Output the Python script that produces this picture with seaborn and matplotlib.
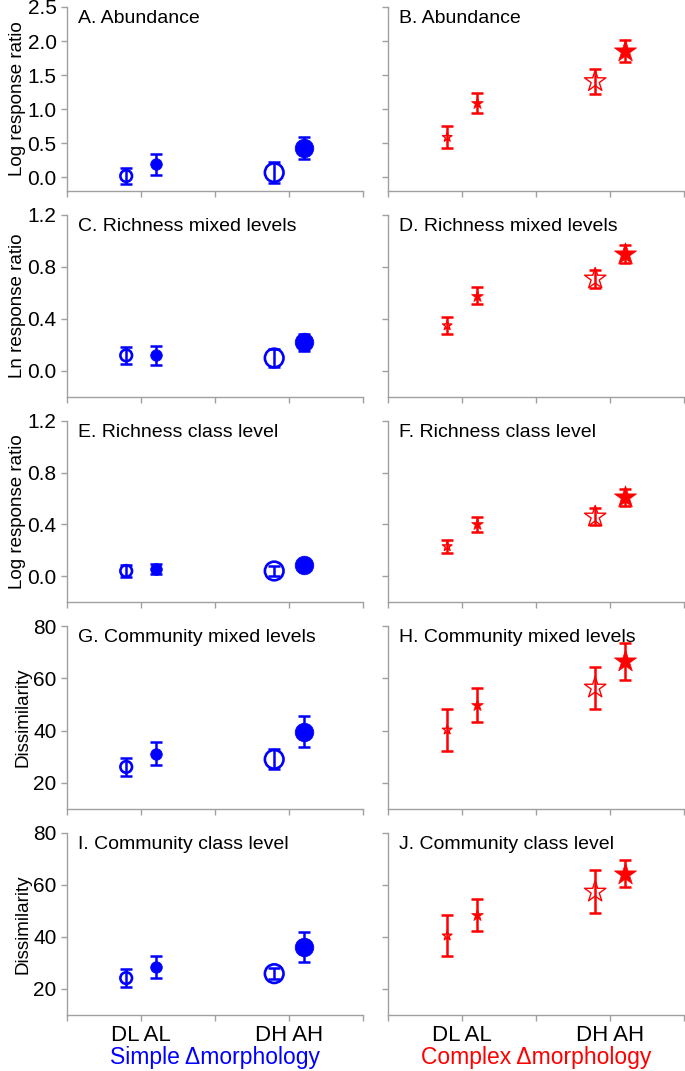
import matplotlib
matplotlib.use("Agg")
import matplotlib.pyplot as plt
import seaborn as sns
import pandas as pd

# treatments in plotting order (D = open marker, A = filled marker)
treatments = ["DL", "AL", "DH", "AH"]
group_labels = ["DL AL", "DH AH"]

titles_simple = ["A. Abundance", "C. Richness mixed levels", "E. Richness class level",
                 "G. Community mixed levels", "I. Community class level"]
titles_complex = ["B. Abundance", "D. Richness mixed levels", "F. Richness class level",
                  "H. Community mixed levels", "J. Community class level"]
ylabels = ["Log response ratio", "Ln response ratio", "Log response ratio",
           "Dissimilarity", "Dissimilarity"]

abund_simple = [0.02, 0.19, 0.07, 0.43]
abund_simple_se = [0.12, 0.155, 0.15, 0.16]
abund_complex = [0.59, 1.09, 1.41, 1.86]
abund_complex_se = [0.16, 0.15, 0.18, 0.16]

richmix_simple = [0.12, 0.12, 0.10, 0.22]
richmix_simple_se = [0.065, 0.07, 0.07, 0.065]
richmix_complex = [0.35, 0.58, 0.71, 0.90]
richmix_complex_se = [0.065, 0.065, 0.07, 0.07]

richclass_simple = [0.04, 0.055, 0.04, 0.09]
richclass_simple_se = [0.045, 0.04, 0.04, 0.02]
richclass_complex = [0.23, 0.40, 0.46, 0.61]
richclass_complex_se = [0.05, 0.055, 0.065, 0.065]

commmix_simple = [26.1, 31.1, 29.0, 39.6]
commmix_simple_se = [3.5, 4.4, 3.8, 5.9]
commmix_complex = [40.3, 49.8, 56.4, 66.5]
commmix_complex_se = [8.1, 6.5, 8.0, 7.0]

commclass_simple = [24.2, 28.6, 25.9, 36.2]
commclass_simple_se = [3.4, 4.2, 2.0, 5.7]
commclass_complex = [40.5, 48.5, 57.4, 64.4]
commclass_complex_se = [7.9, 6.2, 8.2, 5.2]

simple_rows = [(abund_simple, abund_simple_se), (richmix_simple, richmix_simple_se),
               (richclass_simple, richclass_simple_se), (commmix_simple, commmix_simple_se),
               (commclass_simple, commclass_simple_se)]
complex_rows = [(abund_complex, abund_complex_se), (richmix_complex, richmix_complex_se),
                (richclass_complex, richclass_complex_se), (commmix_complex, commmix_complex_se),
                (commclass_complex, commclass_complex_se)]

sns.set_style("white")
plt.rcParams["font.family"] = ["Liberation Sans", "DejaVu Sans"]

ylims = [(-0.2, 2.5), (-0.2, 1.2), (-0.2, 1.2), (10, 80), (10, 80)]
yticks = [[0, 0.5, 1.0, 1.5, 2.0, 2.5], [0, 0.4, 0.8, 1.2], [0, 0.4, 0.8, 1.2],
          [20, 40, 60, 80], [20, 40, 60, 80]]
yfmt = ["{:.1f}", "{:.1f}", "{:.1f}", "{:.0f}", "{:.0f}"]

# panel rows in pixels (top, bottom) of a 685x1071 canvas
row_px = [(7, 191), (215, 397), (421, 602), (626, 809), (833, 1015)]
W, H = 685, 1071
col_px = [(67, 363), (388, 684)]

BLUE = "#0000ff"
RED = "#ff0000"
SPINE = "#a0a0a0"

xpos = [1 - 0.2, 1 + 0.2, 3 - 0.2, 3 + 0.2]
circle_sizes = [70, 70, 180, 180]
star_sizes = [50, 80, 260, 280]

fig = plt.figure(figsize=(6.85, 10.71), dpi=100)


def draw_panel(ax, means, errs, color, marker, sizes, lw_open):
    df = pd.DataFrame({"x": xpos, "y": means, "err": errs, "treat": treatments})
    ax.errorbar(df["x"], df["y"], yerr=df["err"], fmt="none", ecolor=color,
                elinewidth=1.8, capsize=4.5, capthick=1.8, zorder=2)
    for i, row in df.iterrows():
        filled = row["treat"].startswith("A")
        sns.scatterplot(x=[row["x"]], y=[row["y"]], ax=ax, marker=marker, s=sizes[i],
                        facecolor=color if filled else "none", edgecolor=color,
                        linewidth=0.5 if filled else lw_open, zorder=3, legend=False)


for r in range(5):
    top, bot = row_px[r]
    for c in range(2):
        left, right = col_px[c]
        ax = fig.add_axes([left / W, 1 - bot / H, (right - left) / W, (bot - top) / H])
        if c == 0:
            means, errs = simple_rows[r]
            draw_panel(ax, means, errs, BLUE, "o", circle_sizes, 1.9)
            title = titles_simple[r]
        else:
            means, errs = complex_rows[r]
            draw_panel(ax, means, errs, RED, "*", star_sizes, 1.0)
            title = titles_complex[r]

        ax.set_xlim(0, 4)
        ax.set_ylim(*ylims[r])
        ax.set_yticks(yticks[r])
        ax.set_xticks([0, 1, 2, 3, 4])
        for side in ["top", "right"]:
            ax.spines[side].set_visible(False)
        for side in ["left", "bottom"]:
            ax.spines[side].set_color(SPINE)
            ax.spines[side].set_linewidth(1.0)
        ax.tick_params(axis="both", direction="out", length=4, width=1, color=SPINE,
                       labelcolor="black", left=True, bottom=True)
        ax.set_xlabel("")
        ax.set_ylabel("")

        if c == 0:
            ax.set_yticklabels([yfmt[r].format(v) for v in yticks[r]], fontsize=15)
            ax.set_ylabel(ylabels[r], fontsize=13.5, labelpad=1, color="black")
        else:
            ax.set_yticklabels([])

        if r == 4:
            ax.set_xticklabels(["", group_labels[0], "", group_labels[1], ""], fontsize=16)
            ax.tick_params(axis="x", pad=3)
            if c == 0:
                ax.set_xlabel("Simple \u0394morphology", color=BLUE, fontsize=16.5, labelpad=0)
            else:
                ax.set_xlabel("Complex \u0394morphology", color=RED, fontsize=16.5, labelpad=0)
        else:
            ax.set_xticklabels([])

        ax.text(0.037, 0.985, title, transform=ax.transAxes, ha="left", va="top",
                fontsize=14, color="black")

fig.savefig("out.png", dpi=100)
